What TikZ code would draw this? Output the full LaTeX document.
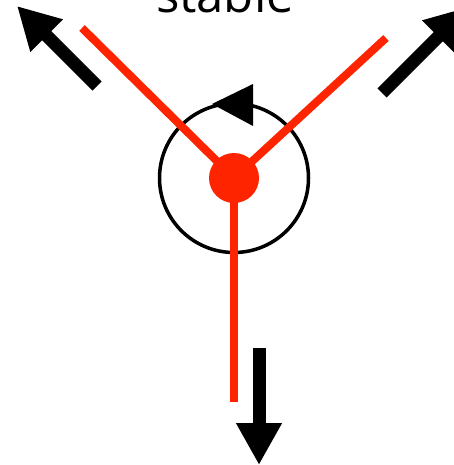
\documentclass[tikz,border=0pt]{standalone}
\usepackage{fontspec}
\setmainfont{Open Sans}
\usetikzlibrary{arrows.meta}
\definecolor{redline}{RGB}{255,36,0}
\tikzset{
  redbar/.style={draw=redline,line width=8pt},
  bigarrow/.style={draw=black,line width=13pt,-{Triangle[width=43pt,length=42pt]}},
}
\begin{document}
\begin{tikzpicture}[x=1pt,y=-1pt]
\useasboundingbox (0,0) rectangle (454,465);
\clip (0,0) rectangle (454,465);
\coordinate (c) at (234,178);
\coordinate (ul) at (82,28);
\coordinate (ur) at (386,38);
\coordinate (dn) at (234,402);
\node[anchor=base,inner sep=0pt,font=\fontsize{49}{50}\selectfont] (title) at (225,13) {stable};
\draw[line width=3.5pt] (c) circle[radius=74.5];
\fill (212,104) -- (253,84) -- (253,126) -- cycle;
\draw[redbar] (ul) -- (c);
\draw[redbar] (ur) -- (c);
\draw[redbar] (c) -- (dn);
\fill[redline] (c) circle[radius=25];
\coordinate (a1s) at (97,86);
\coordinate (a1e) at (17,6);
\coordinate (a2s) at (382,93);
\coordinate (a2e) at (468,7);
\coordinate (a3s) at (259,348);
\coordinate (a3e) at (259,465);
\draw[bigarrow] (a1s) -- (a1e);
\draw[bigarrow] (a2s) -- (a2e);
\draw[bigarrow] (a3s) -- (a3e);
\end{tikzpicture}
\end{document}
